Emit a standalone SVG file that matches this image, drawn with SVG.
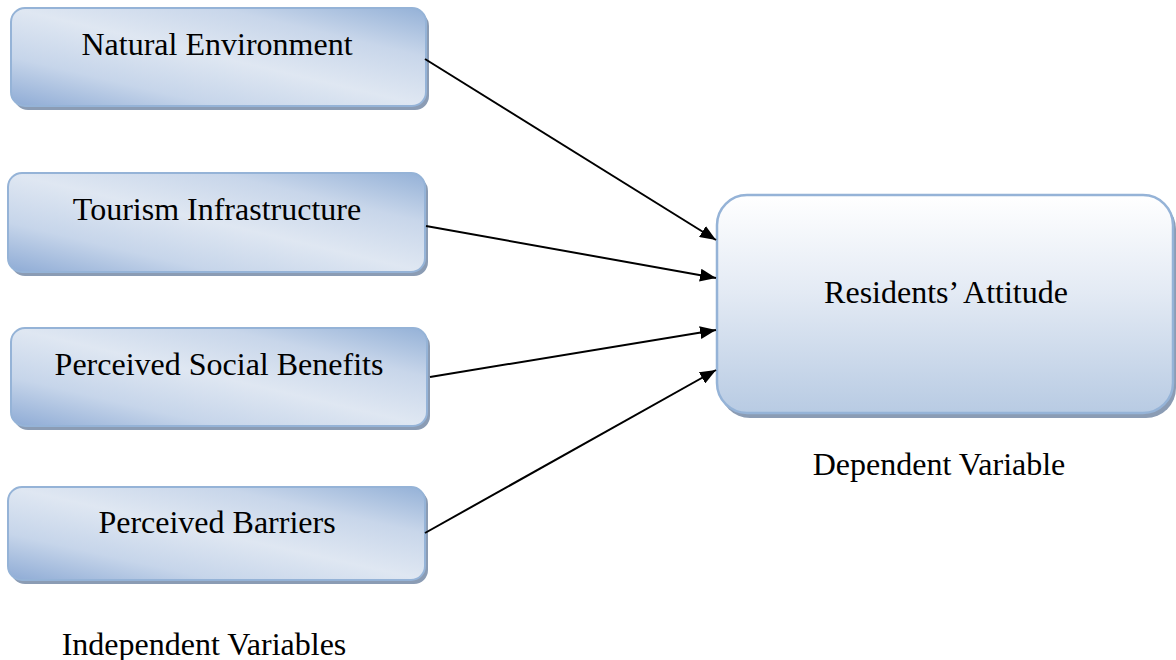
<svg xmlns="http://www.w3.org/2000/svg" width="1176" height="660" viewBox="0 0 1176 660">
  <defs>
    <linearGradient id="gLeft" x1="0" y1="1" x2="1" y2="0">
      <stop offset="0" stop-color="#8eabd5"/>
      <stop offset="0.25" stop-color="#c6d5ea"/>
      <stop offset="0.5" stop-color="#dfe7f2"/>
      <stop offset="0.75" stop-color="#c8d6ea"/>
      <stop offset="1" stop-color="#94b1d7"/>
    </linearGradient>
    <linearGradient id="gRight" x1="0" y1="0" x2="0" y2="1">
      <stop offset="0" stop-color="#ffffff"/>
      <stop offset="0.45" stop-color="#e3eaf4"/>
      <stop offset="1" stop-color="#b8cbe3"/>
    </linearGradient>
    <marker id="arr" viewBox="0 0 16 13" refX="16" refY="6.5" markerWidth="16" markerHeight="13" markerUnits="userSpaceOnUse" orient="auto">
      <path d="M0,0 L16,6.5 L0,13 z" fill="#000"/>
    </marker>
    <style>
      .shadow { fill: #8b9cb4; }
      .lbox { fill: url(#gLeft); stroke: #95b3d7; stroke-width: 2; }
      .rbox { fill: url(#gRight); stroke: #95b3d7; stroke-width: 2.5; }
      .t { font-family: "Liberation Serif", "Times New Roman", serif; font-size: 32px; fill: #000; text-anchor: middle; }
      .conn { stroke: #000; stroke-width: 2; fill: none; }
    </style>
  </defs>
  <rect width="1176" height="660" fill="#ffffff"/>

  <g id="node-natural-environment">
    <rect class="shadow" x="14" y="12" width="415" height="98" rx="14"/>
    <rect class="lbox" x="11" y="8" width="415" height="98" rx="14"/>
    <text class="t" x="217" y="55">Natural Environment</text>
  </g>

  <g id="node-tourism-infrastructure">
    <rect class="shadow" x="11" y="177" width="417" height="99" rx="14"/>
    <rect class="lbox" x="8" y="173" width="417" height="99" rx="14"/>
    <text class="t" x="217" y="220">Tourism Infrastructure</text>
  </g>

  <g id="node-perceived-social-benefits">
    <rect class="shadow" x="14" y="332" width="416" height="98" rx="14"/>
    <rect class="lbox" x="11" y="328" width="416" height="98" rx="14"/>
    <text class="t" x="219" y="375">Perceived Social Benefits</text>
  </g>

  <g id="node-perceived-barriers">
    <rect class="shadow" x="11" y="490" width="417" height="94" rx="14"/>
    <rect class="lbox" x="8" y="487" width="417" height="93" rx="14"/>
    <text class="t" x="217" y="533">Perceived Barriers</text>
  </g>

  <g id="node-residents-attitude">
    <rect class="shadow" x="720" y="199" width="456" height="219" rx="30"/>
    <rect class="rbox" x="717" y="195" width="456" height="218" rx="30"/>
    <text class="t" x="946" y="303">Residents’ Attitude</text>
  </g>

  <g id="labels">
    <text class="t" x="939" y="475">Dependent Variable</text>
    <text class="t" x="204" y="655">Independent Variables</text>
  </g>

  <g id="connectors">
    <line class="conn" x1="425" y1="59" x2="716" y2="240" marker-end="url(#arr)"/>
    <line class="conn" x1="426" y1="226" x2="716" y2="278" marker-end="url(#arr)"/>
    <line class="conn" x1="430" y1="377" x2="716" y2="330" marker-end="url(#arr)"/>
    <line class="conn" x1="425" y1="533" x2="716" y2="370" marker-end="url(#arr)"/>
  </g>
</svg>
